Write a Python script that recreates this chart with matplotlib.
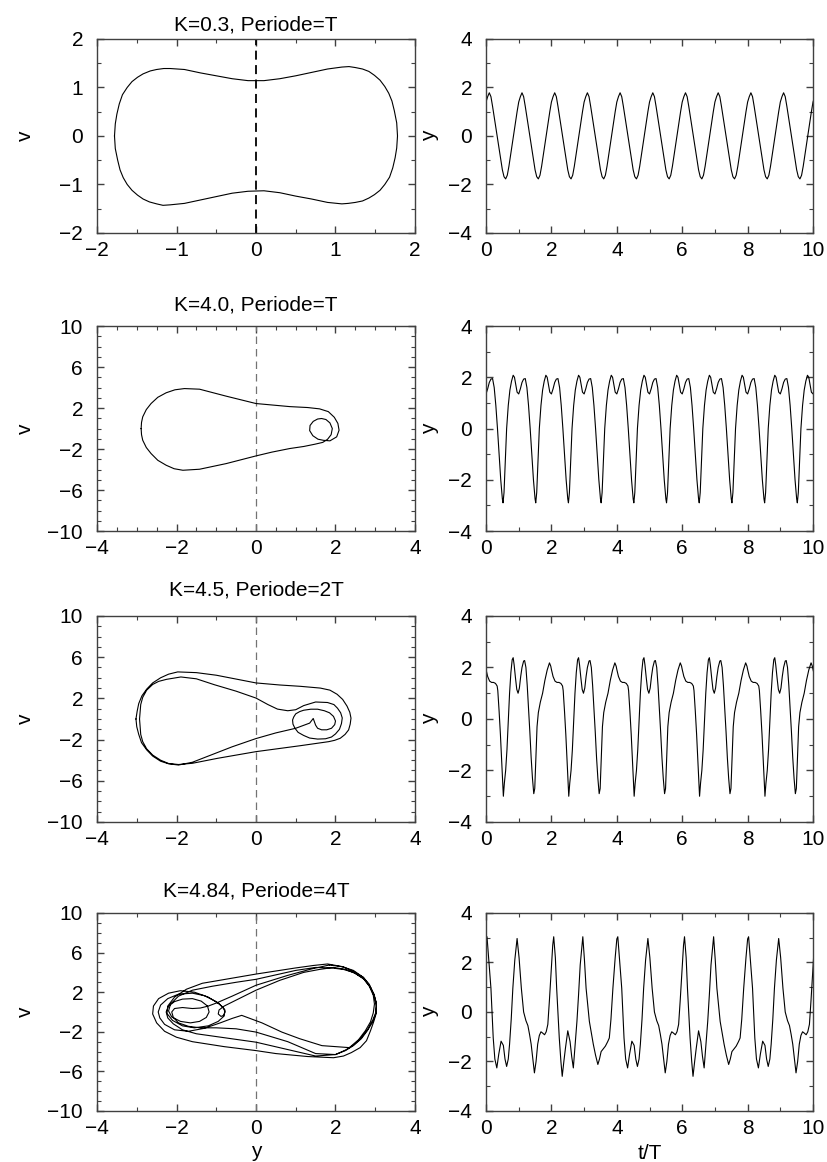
import numpy as np
import matplotlib.pyplot as plt
from matplotlib.ticker import MultipleLocator

plt.rcParams['font.family'] = ['Liberation Sans', 'DejaVu Sans']
plt.rcParams['font.size'] = 15

#titles over the left column
titles = ["K=0.3, Periode=T", "K=4.0, Periode=T", "K=4.5, Periode=2T", "K=4.84, Periode=4T"]

#---- phase portraits (y, v), clockwise ----
y_k03 = [-1.78, -1.77, -1.75, -1.72, -1.68, -1.62, -1.56, -1.49, -1.42, -1.33, -1.25, -1.16,
         -1.08, -0.9, -0.7, -0.5, -0.3, -0.1, 0.1, 0.3, 0.5, 0.7, 0.9, 1.08, 1.17, 1.25,
         1.34, 1.42, 1.49, 1.56, 1.62, 1.67, 1.71, 1.74, 1.77, 1.78,
         1.77, 1.75, 1.72, 1.68, 1.62, 1.56, 1.49, 1.42, 1.34, 1.25, 1.16, 1.08, 0.9, 0.7,
         0.5, 0.3, 0.1, -0.1, -0.3, -0.5, -0.7, -0.9, -1.08, -1.17, -1.25, -1.34, -1.42,
         -1.49, -1.56, -1.62, -1.67, -1.71, -1.74, -1.77, -1.78]
v_k03 = [0.0, 0.25, 0.45, 0.66, 0.85, 1.0, 1.12, 1.21, 1.28, 1.34, 1.37, 1.39,
         1.39, 1.37, 1.3, 1.24, 1.18, 1.14, 1.14, 1.18, 1.24, 1.31, 1.38, 1.42, 1.43, 1.41,
         1.38, 1.33, 1.25, 1.15, 1.02, 0.88, 0.72, 0.52, 0.27, 0.0,
         -0.25, -0.45, -0.66, -0.85, -1.0, -1.12, -1.21, -1.28, -1.34, -1.37, -1.39, -1.4,
         -1.37, -1.3, -1.24, -1.17, -1.13, -1.14, -1.18, -1.25, -1.32, -1.39, -1.42, -1.43,
         -1.4, -1.36, -1.3, -1.22, -1.12, -1.0, -0.86, -0.7, -0.5, -0.26, 0.0]

y_k40 = [-2.89, -2.88, -2.85, -2.76, -2.64, -2.47, -2.26, -2.04, -1.8, -1.42, -0.75, 0.0,
         0.85, 1.3, 1.6, 1.82, 1.97, 2.06, 2.09, 2.03, 1.86, 1.7, 1.56, 1.43, 1.35, 1.36,
         1.44, 1.55, 1.65, 1.76, 1.86, 1.92, 1.89, 1.8, 1.68, 1.48, 1.2, 0.85, 0.4, 0.0,
         -0.75, -1.42, -1.84, -2.06, -2.26, -2.47, -2.64, -2.76, -2.85, -2.88, -2.89]
v_k40 = [0.0, 0.6, 1.14, 1.85, 2.44, 3.05, 3.49, 3.78, 3.9, 3.84, 3.16, 2.44,
         2.14, 2.05, 1.92, 1.65, 1.1, 0.5, -0.16, -0.81, -1.2, -1.15, -1.04, -0.7, -0.2, 0.3,
         0.7, 0.93, 0.98, 0.88, 0.55, 0.0, -0.6, -1.05, -1.35, -1.53, -1.75, -1.95, -2.3, -2.67,
         -3.42, -3.97, -4.07, -3.92, -3.58, -3.1, -2.44, -1.85, -1.14, -0.6, 0.0]

y_k45 = [-3.02, -2.99, -2.95, -2.87, -2.75, -2.6, -2.4, -2.2, -1.97, -1.5, -1.0, 0.0, 0.6,
         1.12, 1.62, 1.86, 2.04, 2.18, 2.29, 2.36, 2.39, 2.37, 2.33, 2.24, 2.12, 1.98, 1.83,
         1.12, 0.0, -0.97, -1.6, -1.95, -2.2, -2.4, -2.6, -2.75, -2.85, -2.9, -2.93,
         -2.9, -2.85, -2.75, -2.6, -2.45, -2.25, -1.89, -1.5, -1.05, -0.5, 0.0, 0.3, 0.54,
         0.8, 1.0, 1.2, 1.5, 1.8, 1.96, 2.05, 2.13, 2.17, 2.15, 2.1, 2.0, 1.9, 1.75, 1.55,
         1.35, 1.2, 1.06, 0.98, 0.93, 0.92, 0.95, 1.0, 1.1, 1.2, 1.38, 1.55, 1.72, 1.85,
         1.95, 2.0, 1.98, 1.9, 1.78, 1.65, 1.55, 1.5, 1.44, 1.35, 1.0, 0.5, 0.0, -0.6,
         -1.2, -1.6, -1.95, -2.2, -2.4, -2.6, -2.75, -2.88, -2.95, -3.0, -3.02]
v_k45 = [0.0, 0.75, 1.5, 2.25, 2.9, 3.5, 4.0, 4.35, 4.57, 4.5, 4.25, 3.5, 3.3,
         3.17, 3.0, 2.8, 2.4, 1.9, 1.25, 0.65, 0.08, -0.5, -1.06, -1.5, -1.87, -2.07, -2.2,
         -2.59, -3.17, -3.82, -4.3, -4.42, -4.32, -4.0, -3.5, -2.9, -2.2, -1.5, 0.0,
         1.4, 2.1, 2.8, 3.35, 3.65, 3.85, 4.08, 3.9, 3.33, 2.7, 2.03, 1.4, 0.96,
         0.8, 0.9, 1.3, 1.65, 1.6, 1.4, 1.05, 0.6, 0.1, -0.45, -1.0, -1.45, -1.75, -1.92, -1.95,
         -1.85, -1.6, -1.3, -0.9, -0.5, -0.1, 0.2, 0.5, 0.72, 0.85, 0.95, 0.95, 0.8, 0.6,
         0.25, -0.2, -0.55, -0.9, -1.05, -1.05, -0.9, -0.6, 0.05, -0.4, -0.9, -1.35, -1.9, -2.7,
         -3.6, -4.2, -4.47, -4.35, -4.1, -3.6, -3.0, -2.3, -1.5, -0.75, 0.0]

#period 4T: four passes around the big right lobe and the loops on the left
y_k484 = [1.85, 2.2, 2.45, 2.7, 2.85, 2.97, 3.03, 3.02, 2.95, 2.8, 2.65, 2.45, 2.25, 2.0,
          1.5, 0.8, 0.0, -0.8, -1.5, -1.85, -2.08, -2.22, -2.26, -2.2, -2.05, -1.85, -1.6,
          -1.38, -1.22, -1.18, -1.25, -1.42, -1.65, -1.9, -2.12, -2.2, -2.15, -1.95, -1.6,
          -1.1, -0.5, 0.0, 1.0, 1.5,
          1.9, 2.2, 2.45, 2.7, 2.85, 2.95, 2.98, 2.95, 2.88, 2.75, 2.58, 2.35, 1.66, 1.1,
          0.65, 0.15, -0.36, -0.6, -0.9, -1.3, -1.7, -2.05, -2.3, -2.42, -2.46, -2.4, -2.22,
          -1.95, -1.6, -1.3, -1.0, -0.82, -0.78, -0.82, -0.88, -0.95, -0.93, -0.8, -0.55,
          -0.3, 0.0, 0.6, 1.2, 1.6,
          1.95, 2.25, 2.5, 2.72, 2.88, 2.98, 3.03, 3.02, 2.96, 2.88, 2.78, 2.62, 2.4, 2.2,
          1.95, 1.3, 0.5, 0.0, -0.8, -1.6, -2.0, -2.3, -2.5, -2.6, -2.58, -2.45, -2.2, -1.9,
          -1.55, -1.2, -0.92, -0.78, -0.8, -0.95, -1.2, -1.55, -1.85, -2.1, -2.24, -2.22,
          -2.05, -1.75, -1.35, -0.7, 0.0, 1.0, 1.45,
          1.8, 2.15, 2.45, 2.7, 2.85, 2.96, 3.03, 3.02, 2.94, 2.82, 2.65, 2.45, 2.25, 2.0,
          1.5, 0.8, 0.0, -0.5, -1.0, -1.4, -1.7, -1.95, -2.08, -2.12, -2.05, -1.85, -1.6,
          -1.4, -1.2, -1.0, -0.6, 0.0, 0.8, 1.4, 1.85]
v_k484 = [4.75, 4.55, 4.1, 3.5, 2.7, 1.8, 0.8, -0.1, -0.9, -1.9, -2.7, -3.4, -3.9, -4.3,
          -4.45, -3.8, -3.05, -2.6, -2.2, -1.8, -1.2, -0.6, 0.0, 0.6, 1.05, 1.3, 1.35,
          1.1, 0.6, 0.0, -0.55, -0.95, -1.1, -0.95, -0.5, 0.1, 0.8, 1.6, 2.2,
          2.6, 3.0, 3.3, 4.2, 4.5,
          4.45, 4.3, 4.0, 3.4, 2.6, 1.7, 0.8, -0.1, -1.0, -1.9, -2.8, -3.6, -3.4, -2.7,
          -2.03, -1.1, -0.34, -0.65, -1.1, -1.65, -1.95, -1.8, -1.25, -0.6, 0.0, 0.7, 1.35,
          1.8, 1.9, 1.65, 1.05, 0.45, 0.0, -0.35, -0.45, -0.2, 0.2, 0.6, 1.1,
          1.6, 2.2, 3.2, 4.0, 4.3,
          4.5, 4.3, 3.9, 3.3, 2.5, 1.5, 0.6, -0.2, -1.0, -1.9, -2.9, -3.6, -4.1, -4.45,
          -4.62, -4.5, -4.2, -3.9, -3.5, -3.0, -2.55, -1.95, -1.1, -0.2, 0.6, 1.35, 1.9, 2.15,
          2.0, 1.5, 0.8, 0.2, -0.4, -0.95, -1.4, -1.6, -1.4, -0.85, -0.15, 0.6,
          1.5, 2.3, 2.9, 3.35, 3.83, 4.45, 4.7,
          4.85, 4.6, 4.2, 3.5, 2.8, 1.8, 0.9, 0.0, -0.8, -1.7, -2.6, -3.35, -3.85, -4.3,
          -4.2, -3.0, -2.03, -1.7, -1.6, -1.6, -1.45, -1.1, -0.55, 0.0, 0.35, 0.45, 0.35,
          0.4, 0.6, 0.9, 1.6, 2.7, 3.7, 4.35, 4.75]

#---- time series: one period of y(t/T) ----
tp_k03 = [0.0, 0.05, 0.1, 0.15, 0.2, 0.25, 0.3, 0.35, 0.4, 0.45,
          0.5, 0.55, 0.6, 0.65, 0.7, 0.75, 0.8, 0.85, 0.9, 0.95]
yp_k03 = [1.4, 1.62, 1.78, 1.62, 1.22, 0.78, 0.33, -0.1, -0.55, -1.0,
          -1.4, -1.68, -1.77, -1.62, -1.25, -0.8, -0.35, 0.1, 0.55, 1.0]

tp_k40 = [0.0, 0.05, 0.1, 0.15, 0.2, 0.25, 0.3, 0.35, 0.4, 0.45, 0.5, 0.52,
          0.55, 0.59, 0.63, 0.68, 0.73, 0.78, 0.83, 0.87, 0.91, 0.95]
yp_k40 = [1.35, 1.55, 1.8, 1.93, 1.95, 1.6, 0.9, 0.0, -1.0, -2.0, -2.75, -2.9,
          -2.5, -1.3, 0.0, 0.9, 1.5, 1.85, 2.08, 2.0, 1.7, 1.42]

tp_k45 = [0.0, 0.05, 0.11, 0.17, 0.23, 0.29, 0.34, 0.36, 0.4, 0.44, 0.48, 0.51, 0.53,
          0.56, 0.6, 0.64, 0.68, 0.72, 0.76, 0.8, 0.83, 0.86, 0.9, 0.94, 0.98, 1.02,
          1.06, 1.1, 1.15, 1.18, 1.22, 1.26, 1.3, 1.34, 1.38, 1.42, 1.46, 1.49, 1.52,
          1.56, 1.6, 1.66, 1.73, 1.8, 1.87, 1.94, 1.98]
yp_k45 = [1.92, 1.65, 1.47, 1.42, 1.42, 1.38, 1.28, 1.1, 0.3, -0.6, -1.7, -2.5, -3.0,
          -2.5, -2.0, -1.2, -0.1, 1.0, 1.8, 2.3, 2.38, 2.1, 1.6, 1.15, 1.0, 1.2,
          1.65, 2.0, 2.25, 2.27, 2.0, 1.3, 0.4, -0.5, -1.5, -2.3, -2.9, -2.7, -1.7,
          -0.3, 0.25, 0.65, 1.0, 1.5, 1.9, 2.18, 2.05]

tp_k484 = [0.0, 0.03, 0.09, 0.15, 0.22, 0.27, 0.33, 0.39, 0.46, 0.53, 0.58, 0.63, 0.68,
           0.72, 0.77, 0.82, 0.88, 0.95, 1.01, 1.08, 1.15, 1.22, 1.28, 1.33, 1.38, 1.43,
           1.48, 1.53, 1.58, 1.63, 1.68, 1.73, 1.79, 1.84, 1.89, 1.94, 1.99, 2.04, 2.07,
           2.12, 2.16, 2.24, 2.29, 2.33, 2.38, 2.43, 2.5, 2.57, 2.62, 2.67, 2.72, 2.78,
           2.83, 2.88, 2.96, 3.01, 3.06, 3.11, 3.16, 3.22, 3.28, 3.35, 3.42, 3.47, 3.52,
           3.58, 3.65, 3.72, 3.77, 3.82, 3.88, 3.95]
yp_k484 = [2.95, 3.04, 2.0, 0.96, -1.05, -1.9, -2.26, -1.7, -1.18, -1.35, -1.9, -2.2, -1.9,
           -1.3, -0.3, 0.96, 2.1, 2.97, 2.2, 0.96, 0.0, -0.35, -0.55, -0.9, -1.3, -1.9,
           -2.46, -2.0, -1.3, -0.95, -0.8, -0.85, -0.92, -0.8, -0.5, 0.5, 1.6, 2.7, 3.04,
           2.2, 0.96, -1.05, -2.0, -2.6, -2.0, -1.45, -0.76, -1.2, -1.8, -2.26, -1.4, -0.38,
           0.7, 1.9, 3.04, 2.1, 0.96, 0.3, -0.38, -0.85, -1.3, -1.75, -2.12, -1.9, -1.6,
           -1.5, -1.38, -1.2, -1.05, -0.3, 0.96, 2.2]

phase_y = [y_k03, y_k40, y_k45, y_k484]
phase_v = [v_k03, v_k40, v_k45, v_k484]
series_t = [tp_k03, tp_k40, tp_k45, tp_k484]
series_y = [yp_k03, yp_k40, yp_k45, yp_k484]
periods = [1, 1, 2, 4]

#axes boxes in figure fractions: (bottom, height) per row
rows = [(0.7995, 0.1670), (0.5430, 0.1764), (0.2926, 0.1773), (0.0439, 0.1704)]
title_pad = [6, 11, 15, 12]
left_x, left_w = 0.1173, 0.3845
right_x, right_w = 0.5877, 0.3954

spine_col = '0.25'

def style(ax):
    for s in ax.spines.values():
        s.set_color(spine_col)
        s.set_linewidth(1.0)
    ax.tick_params(which='both', direction='in', top=True, right=True, color=spine_col)
    ax.tick_params(which='major', length=5, width=1.0)
    ax.tick_params(which='minor', length=3, width=0.8)
    ax.tick_params(axis='x', pad=6)
    ax.tick_params(axis='y', pad=10)

fig = plt.figure(figsize=(8.27, 11.62), dpi=100)

for i in range(4):
    bottom, height = rows[i]

    #left: phase portrait
    ax = fig.add_axes([left_x, bottom, left_w, height])
    style(ax)
    if i == 0:
        ax.axvline(0, color='black', lw=1.3, ls=(0, (5, 3)))
        ax.set_xlim(-2, 2)
        ax.set_ylim(-2, 2)
        ax.xaxis.set_major_locator(MultipleLocator(1))
        ax.xaxis.set_minor_locator(MultipleLocator(0.5))
        ax.yaxis.set_major_locator(MultipleLocator(1))
        ax.yaxis.set_minor_locator(MultipleLocator(0.5))
    else:
        ax.axvline(0, color='0.45', lw=0.9, ls=(0, (6, 4)))
        ax.set_xlim(-4, 4)
        ax.set_ylim(-10, 10)
        ax.set_xticks([-4, -2, 0, 2, 4])
        ax.set_yticks([-10, -6, -2, 2, 6, 10])
        ax.xaxis.set_minor_locator(MultipleLocator(0.5 if i == 1 else 1))
        ax.yaxis.set_minor_locator(MultipleLocator(1))
    ax.plot(phase_y[i], phase_v[i], color='black', lw=0.8)
    ax.set_title(titles[i], fontsize=15, pad=title_pad[i])
    ax.set_ylabel('v', fontsize=15)
    ax.yaxis.set_label_coords(-0.195, 0.5)
    if i == 3:
        ax.set_xlabel('y', fontsize=15)
        ax.xaxis.set_label_coords(0.5, -0.155)

    #right: y(t/T), the read period repeated over 0..10
    ax = fig.add_axes([right_x, bottom, right_w, height])
    style(ax)
    per = periods[i]
    t = np.concatenate([np.array(series_t[i]) + k * per for k in range(int(10 / per) + 2)])
    y = np.tile(series_y[i], int(10 / per) + 2)
    ax.plot(t, y, color='black', lw=0.8)
    ax.set_xlim(0, 10)
    ax.set_ylim(-4, 4)
    ax.xaxis.set_major_locator(MultipleLocator(2))
    ax.xaxis.set_minor_locator(MultipleLocator(1))
    ax.yaxis.set_major_locator(MultipleLocator(2))
    ax.yaxis.set_minor_locator(MultipleLocator(1))
    ax.set_ylabel('y', fontsize=15)
    ax.yaxis.set_label_coords(-0.145, 0.5)
    if i == 3:
        ax.set_xlabel('t/T', fontsize=15)
        ax.xaxis.set_label_coords(0.5, -0.165)

fig.savefig('out.png', dpi=100)
